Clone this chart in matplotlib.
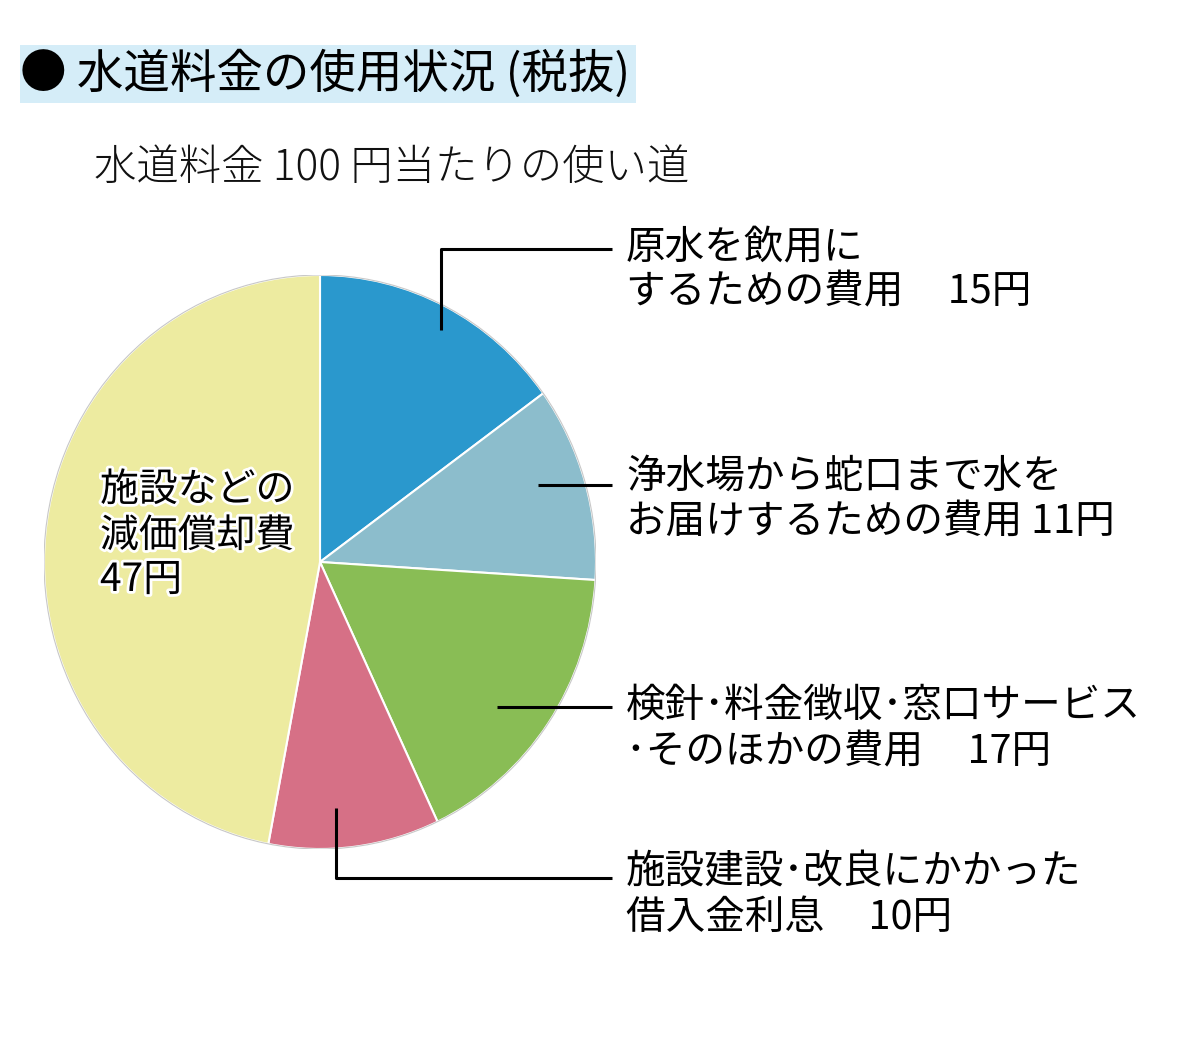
import matplotlib
matplotlib.use("Agg")
import matplotlib.pyplot as plt
from matplotlib.patches import Rectangle, Circle
from matplotlib.lines import Line2D
import matplotlib.patheffects as pe

plt.rcParams['font.family'] = ['Noto Sans CJK JP', 'DejaVu Sans']

# ---- data ----
categories = ["原水を飲用にするための費用",
              "浄水場から蛇口まで水をお届けするための費用",
              "検針・料金徴収・窓口サービス・そのほかの費用",
              "施設建設・改良にかかった借入金利息",
              "施設などの減価償却費"]
values = [15, 11, 17, 10, 47]
colors = ["#2A98CD", "#8CBDCC", "#89BD55", "#D67086", "#EDEBA0"]

title = "● 水道料金の使用状況 (税抜)"
subtitle = "水道料金 100 円当たりの使い道"
label_lines = [
    ["原水を飲用に", "するための費用     15円"],
    ["浄水場から蛇口まで水を", "お届けするための費用 11円"],
    ["検針･料金徴収･窓口サービス", "･そのほかの費用     17円"],
    ["施設建設･改良にかかった", "借入金利息     10円"],
]
inner_lines = ["施設などの", "減価償却費", "47円"]

W, H = 1201, 1046
fig = plt.figure(figsize=(W / 100, H / 100), dpi=100)
fig.patch.set_facecolor("white")


def fx(x):
    return x / W


def fy(y):
    return 1 - y / H


# title background
fig.add_artist(Rectangle((fx(20), fy(103)), fx(636) - fx(20), fy(45) - fy(103),
                         transform=fig.transFigure, facecolor="#D5EDF8",
                         edgecolor="none", zorder=0))
fig.text(fx(20), fy(75), title, fontsize=33.5, va="center", ha="left", color="black")
fig.text(fx(94), fy(168), subtitle, fontsize=30.5, va="center", ha="left",
         color="#111111", fontweight="light")

# pie axes
cx, cy, rx, ry = 320, 562, 276, 287
ax = fig.add_axes([fx(cx - rx), fy(cy + ry), 2 * rx / W, 2 * ry / H])
wedges, _ = ax.pie(values, colors=colors, startangle=90, counterclock=False,
                   radius=1.0,
                   wedgeprops=dict(edgecolor="white", linewidth=1.5))
ax.set_xlim(-1.0, 1.0)
ax.set_ylim(-1.0, 1.0)
ax.set_aspect("auto")
ax.axis("off")
ax.add_patch(Circle((0, 0), 1.0, facecolor="none", edgecolor="#C8C8C8",
                    linewidth=0.8, zorder=5))

# leader lines (pixel coords)
leaders = [
    [(441, 330), (441, 249), (612, 249)],
    [(538, 485), (612, 485)],
    [(497, 707), (612, 707)],
    [(336, 808), (336, 878), (612, 878)],
]
for pts in leaders:
    xs = [fx(p[0]) for p in pts]
    ys = [fy(p[1]) for p in pts]
    fig.add_artist(Line2D(xs, ys, transform=fig.transFigure, color="black",
                          linewidth=2.2, solid_capstyle="butt", zorder=6))

label_y = [(247, 292), (477, 522), (706, 752), (872, 918)]
for lines, ys in zip(label_lines, label_y):
    for t, y in zip(lines, ys):
        fig.text(fx(626), fy(y), t, fontsize=28.5, va="center", ha="left",
                 color="black")

for t, y in zip(inner_lines, (490, 536, 580)):
    fig.text(fx(100), fy(y), t, fontsize=28, va="center", ha="left",
             color="black",
             path_effects=[pe.withStroke(linewidth=4, foreground="white")])

fig.savefig("out.png", dpi=100, facecolor="white")
